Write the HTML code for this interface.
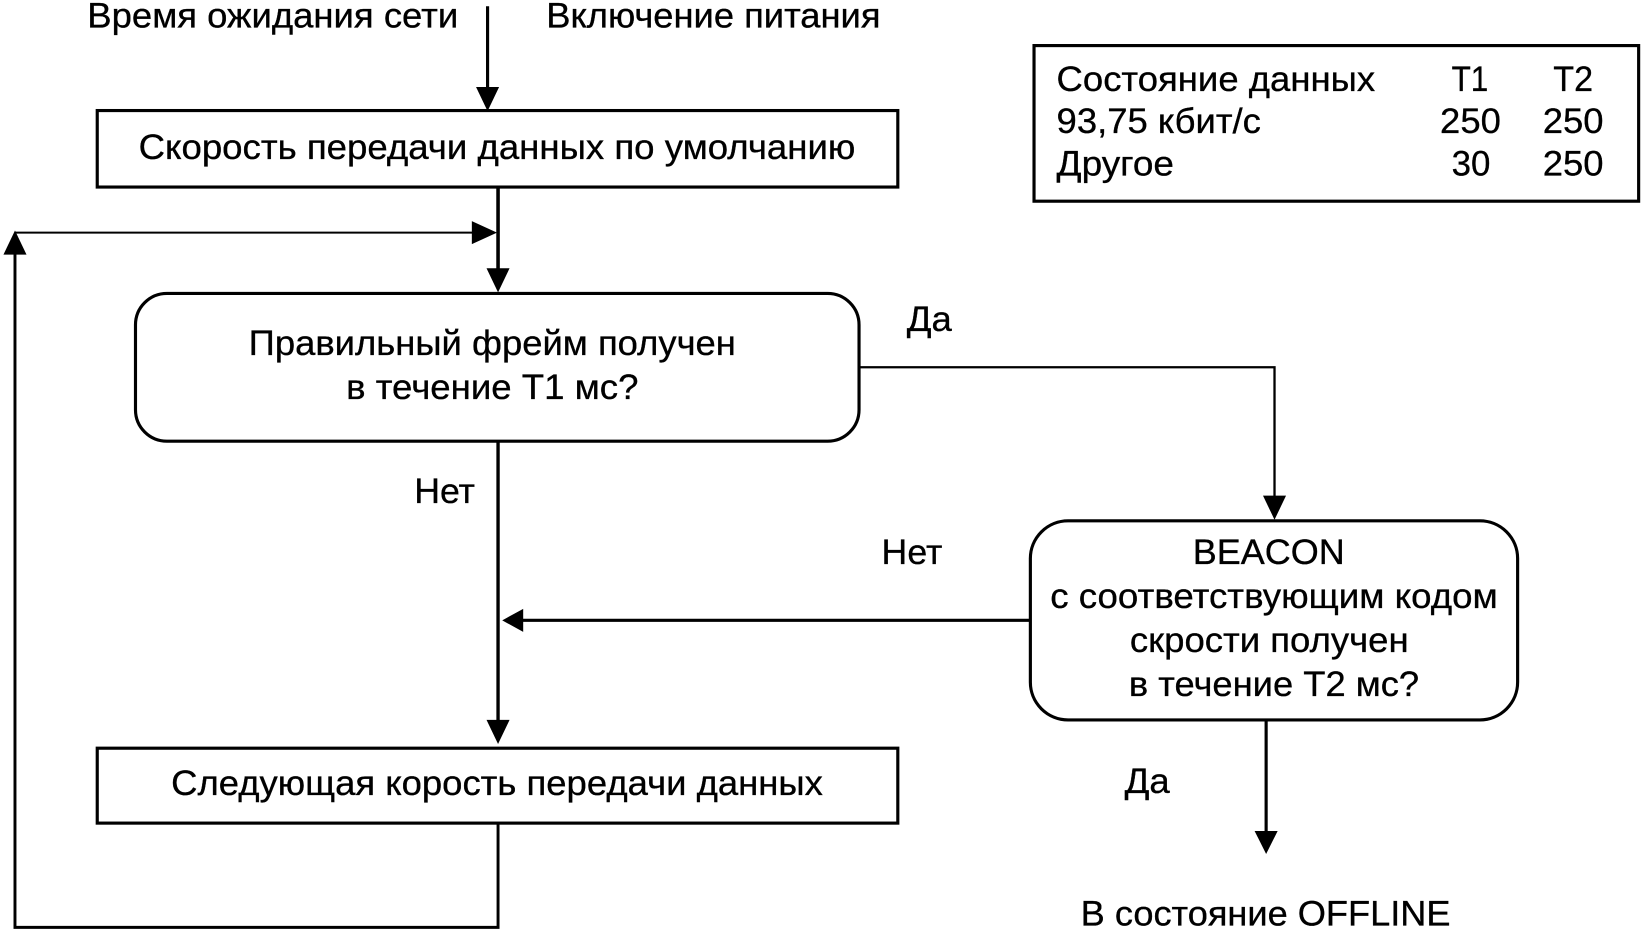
<!DOCTYPE html>
<html lang="ru">
<head>
<meta charset="utf-8">
<title>Диаграмма</title>
<style>
html,body{margin:0;padding:0;background:#fff;width:1642px;height:930px;overflow:hidden}
svg{display:block}
text{font-family:"Liberation Sans",sans-serif;font-size:34px;fill:#000;stroke:#000;stroke-width:.3}
</style>
</head>
<body>
<svg width="1642" height="930" viewBox="0 0 1567 887.5" preserveAspectRatio="none" xmlns="http://www.w3.org/2000/svg">
<rect x="0" y="0" width="1567" height="887.5" fill="#fff"/>
<g transform="translate(-0.7 0)">
<g fill="none" stroke="#000" stroke-width="3">
  <path d="M466 6V90" />
  <path d="M476 178V262" stroke-width="3.4"/>
  <path d="M15 240V885H476V785" stroke-width="2.8"/>
  <path d="M15 222H456" stroke-width="2"/>
  <path d="M476 421V692" stroke-width="3.2"/>
  <path d="M984 592H496" />
  <path d="M820 350.500H1217V476" stroke-width="2.2"/>
  <path d="M1209 687V798" />
  <rect x="93.500" y="105.500" width="764" height="73"/>
  <rect x="93.500" y="714" width="764" height="71.500"/>
  <rect x="130" y="280" width="690.500" height="141" rx="30" ry="30"/>
  <rect x="984" y="497" width="465" height="190" rx="36" ry="36"/>
  <rect x="987.500" y="43.500" width="577" height="148.500"/>
</g>
<g fill="#000" stroke="none">
  <polygon points="455,83 477,83 466,106"/>
  <polygon points="465,256 487,256 476,279"/>
  <polygon points="451,211 451,233 475,222"/>
  <polygon points="4,243 26,243 15,220"/>
  <polygon points="465,687 487,687 476,710"/>
  <polygon points="500,581 500,603 480,592"/>
  <polygon points="1206,473 1228,473 1217,496"/>
  <polygon points="1198,793 1220,793 1209,815"/>
</g>
<text x="84" y="26" textLength="354" lengthAdjust="spacingAndGlyphs">Время ожидания сети</text>
<text x="522" y="26" textLength="319" lengthAdjust="spacingAndGlyphs">Включение питания</text>
<text x="133" y="151.500" textLength="684" lengthAdjust="spacingAndGlyphs">Скорость передачи данных по умолчанию</text>
<text x="238" y="339" textLength="465" lengthAdjust="spacingAndGlyphs">Правильный фрейм получен</text>
<text x="331" y="381" textLength="279" lengthAdjust="spacingAndGlyphs">в течение Т1 мс?</text>
<text x="866" y="316" textLength="43" lengthAdjust="spacingAndGlyphs">Да</text>
<text x="396" y="480" textLength="58" lengthAdjust="spacingAndGlyphs">Нет</text>
<text x="842" y="538" textLength="58" lengthAdjust="spacingAndGlyphs">Нет</text>
<text x="1139" y="538" textLength="145" lengthAdjust="spacingAndGlyphs">BEACON</text>
<text x="1003" y="580" textLength="427" lengthAdjust="spacingAndGlyphs">с соответствующим кодом</text>
<text x="1079" y="622" textLength="266" lengthAdjust="spacingAndGlyphs">скрости получен</text>
<text x="1078" y="664" textLength="277" lengthAdjust="spacingAndGlyphs">в течение Т2 мс?</text>
<text x="1074" y="757" textLength="43" lengthAdjust="spacingAndGlyphs">Да</text>
<text x="1032" y="883" textLength="353" lengthAdjust="spacingAndGlyphs">В состояние OFFLINE</text>
<text x="164" y="758.500" textLength="622" lengthAdjust="spacingAndGlyphs">Следующая корость передачи данных</text>
<text x="1009" y="87" textLength="304" lengthAdjust="spacingAndGlyphs">Состояние данных</text>
<text x="1009" y="127" textLength="195" lengthAdjust="spacingAndGlyphs">93,75 кбит/с</text>
<text x="1009" y="167.500" textLength="112" lengthAdjust="spacingAndGlyphs">Другое</text>
<text x="1386" y="87" textLength="35" lengthAdjust="spacingAndGlyphs">Т1</text>
<text x="1483" y="87" textLength="38" lengthAdjust="spacingAndGlyphs">Т2</text>
<text x="1375" y="127" textLength="58" lengthAdjust="spacingAndGlyphs">250</text>
<text x="1473" y="127" textLength="58" lengthAdjust="spacingAndGlyphs">250</text>
<text x="1386" y="167.500" textLength="37" lengthAdjust="spacingAndGlyphs">30</text>
<text x="1473" y="167.500" textLength="58" lengthAdjust="spacingAndGlyphs">250</text>
</g>
</svg>
</body>
</html>
